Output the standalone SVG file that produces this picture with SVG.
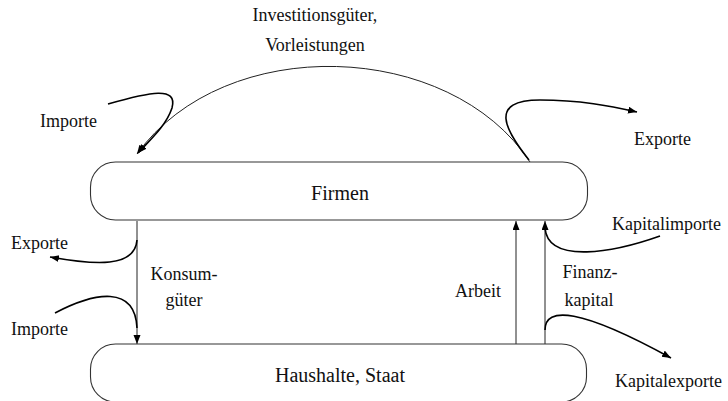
<svg xmlns="http://www.w3.org/2000/svg" width="728" height="401" viewBox="0 0 728 401">
<style>
  .box { fill: #fff; stroke: #333; stroke-width: 1.1; }
  .t { font-family: "Liberation Serif", "Times New Roman", serif; font-size: 18px; fill: #111; }
  .node { font-size: 20px; text-anchor: middle; }
  .flow { fill: none; stroke: #222; stroke-width: 1; }
  .ext { fill: none; stroke: #000; stroke-width: 1.6; }
</style>
<defs>
  <marker id="ah" markerUnits="userSpaceOnUse" markerWidth="10" markerHeight="8" refX="9" refY="3.5" orient="auto">
    <path d="M0,0 L9,3.5 L0,7 z" fill="#000"/>
  </marker>
</defs>
<rect width="728" height="401" fill="#fff"/>
<g id="connectors">
  <path class="flow" d="M530,162 C450,40 225,32 137,154" marker-end="url(#ah)"/>
  <path class="ext" d="M108,104 C150,92 178,86 172,108 C166,126 150,140 138,153" marker-end="url(#ah)"/>
  <path class="ext" d="M529,160 C505,130 488,100 540,100 C580,100 610,106 637,112" marker-end="url(#ah)"/>
  <path class="flow" d="M137,221 L137,344" marker-end="url(#ah)"/>
  <path class="ext" d="M137,240 C135,268 95,265 50,257" marker-end="url(#ah)"/>
  <path class="ext" d="M55,313 C95,292 135,285 137,328"/>
  <path class="flow" d="M516,344 L516,221" marker-end="url(#ah)"/>
  <path class="flow" d="M545,344 L545,221" marker-end="url(#ah)"/>
  <path class="ext" d="M660,236 C615,252 548,265 545,228"/>
  <path class="ext" d="M545,330 C545,306 580,308 671,358" marker-end="url(#ah)"/>
</g>
<g id="firmen">
  <rect class="box" x="90.5" y="162" width="497" height="58" rx="25" ry="25"/>
  <text class="t node" x="340" y="200">Firmen</text>
</g>
<g id="haushalte">
  <rect class="box" x="90.5" y="344" width="496" height="58" rx="25" ry="25"/>
  <text class="t node" x="340" y="382">Haushalte, Staat</text>
</g>
<g id="labels">
  <text class="t" x="315" y="21" text-anchor="middle">Investitionsgüter,</text>
  <text class="t" x="315" y="51" text-anchor="middle">Vorleistungen</text>
  <text class="t" x="40" y="127">Importe</text>
  <text class="t" x="634" y="145">Exporte</text>
  <text class="t" x="11" y="249">Exporte</text>
  <text class="t" x="11" y="335">Importe</text>
  <text class="t" x="184" y="280" text-anchor="middle">Konsum-</text>
  <text class="t" x="184" y="306" text-anchor="middle">güter</text>
  <text class="t" x="478" y="297" text-anchor="middle">Arbeit</text>
  <text class="t" x="590" y="278" text-anchor="middle">Finanz-</text>
  <text class="t" x="589" y="306" text-anchor="middle">kapital</text>
  <text class="t" x="612" y="230">Kapitalimporte</text>
  <text class="t" x="615" y="387">Kapitalexporte</text>
</g>
</svg>
